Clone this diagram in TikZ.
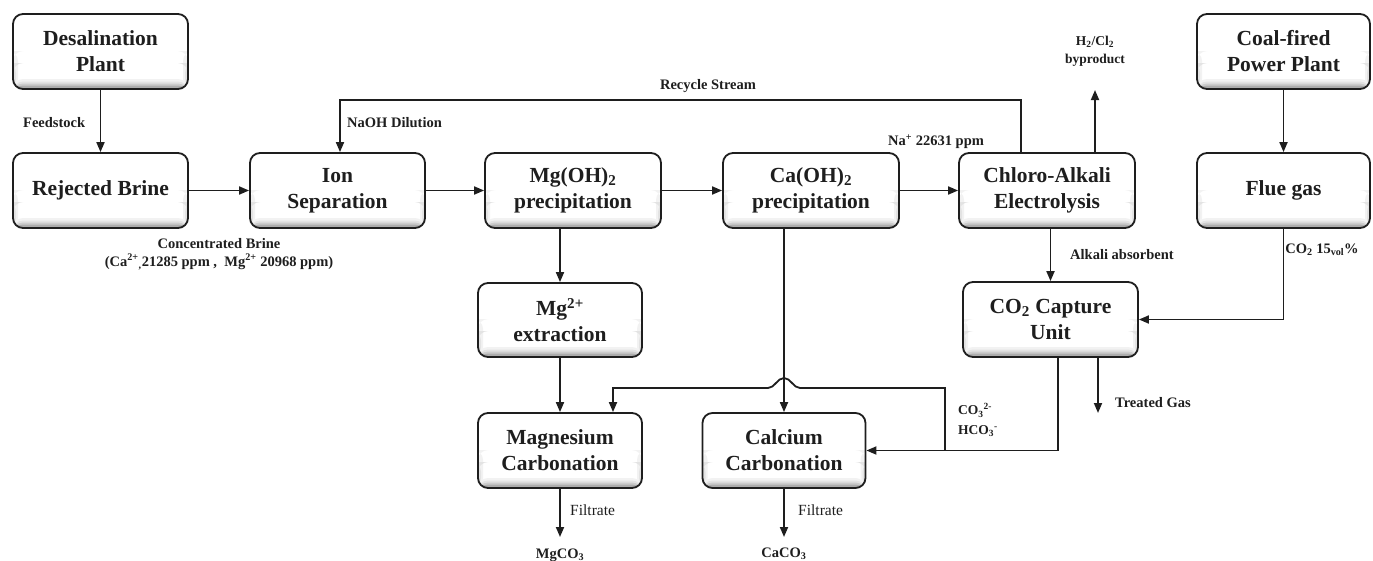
\documentclass[tikz,border=0pt]{standalone}
\usepackage{fontspec}
\setmainfont{Liberation Serif}
\usetikzlibrary{arrows.meta}

\definecolor{ink}{HTML}{1E1E1E}

\tikzset{
  % stepped grey strips give the inner shadow along the lower edge and sides
  unit/.style={draw=ink, line width=1.8pt, rounded corners=10pt, fill=white,
    minimum width=175pt, minimum height=75pt, align=center, inner sep=2pt,
    text=ink, font=\bfseries\fontsize{21.5}{26}\selectfont,
    path picture={
      \fill[black!5] (path picture bounding box.south west) rectangle ([xshift=5pt,yshift=38pt]path picture bounding box.south west);
      \fill[black!5] (path picture bounding box.south east) rectangle ([xshift=-5pt,yshift=38pt]path picture bounding box.south east);
      \fill[black!11] (path picture bounding box.south west) rectangle ([xshift=3pt,yshift=26pt]path picture bounding box.south west);
      \fill[black!11] (path picture bounding box.south east) rectangle ([xshift=-3pt,yshift=26pt]path picture bounding box.south east);
      \fill[black!5] (path picture bounding box.south west) rectangle ([yshift=10pt]path picture bounding box.south east);
      \fill[black!11] (path picture bounding box.south west) rectangle ([yshift=7.5pt]path picture bounding box.south east);
      \fill[black!20] (path picture bounding box.south west) rectangle ([yshift=5.5pt]path picture bounding box.south east);
      \fill[black!32] (path picture bounding box.south west) rectangle ([yshift=3.5pt]path picture bounding box.south east);
    }},
  flow/.style={draw=ink, line width=1.8pt, -{Triangle[length=10pt,width=8pt]}},
  lbl/.style={text=ink, inner sep=0pt, font=\bfseries\fontsize{14.5}{18}\selectfont},
  plain/.style={text=ink, inner sep=0pt, font=\fontsize{15.5}{18}\selectfont},
}

\begin{document}
\begin{tikzpicture}[x=1pt, y=-1pt]
\useasboundingbox (0,0) rectangle (1373,560);

% process units
\node[unit] (desal) at (100.5,51.5) {Desalination\\Plant};
\node[unit] (brine) at (100.5,190.5) {Rejected Brine};
\node[unit] (ion) at (337.5,190.5) {Ion\\Separation};
\node[unit, minimum width=176pt] (mgoh) at (573,190.5) {Mg(OH)\textsubscript{2}\\precipitation};
\node[unit, minimum width=176pt] (caoh) at (811,190.5) {Ca(OH)\textsubscript{2}\\precipitation};
\node[unit, minimum width=176pt] (chlor) at (1047,190.5) {Chloro-Alkali\\Electrolysis};
\node[unit, minimum width=173pt] (coal) at (1283.5,51.5) {Coal-fired\\Power Plant};
\node[unit, minimum width=173pt] (flue) at (1283.5,190.5) {Flue gas};
\node[unit, minimum width=164pt, minimum height=74pt] (mgext) at (560,320) {Mg\textsuperscript{2+}\\extraction};
\node[unit, minimum width=164pt] (mgcarb) at (560,450.5) {Magnesium\\Carbonation};
\node[unit, minimum width=163pt] (cacarb) at (784,450.5) {Calcium\\Carbonation};
\node[unit] (co2) at (1050.5,319.5) {CO\textsubscript{2} Capture\\Unit};

% free ends and bends
\coordinate (recycle) at (340,100);
\coordinate (gasout) at (1095,90);
\coordinate (treated) at (1098,413);
\coordinate (split) at (945,450.5);
\coordinate (bridge) at (945,388);
\coordinate (mgin) at (613,388);
\coordinate (mgout) at (560,537);
\coordinate (caout) at (784,537);

% main line
\draw[flow] (desal) -- (brine);
\draw[flow] (brine) -- (ion);
\draw[flow] (ion) -- (mgoh);
\draw[flow] (mgoh) -- (caoh);
\draw[flow] (caoh) -- (chlor);
\draw[flow] (coal) -- (flue);

% recycle of diluted NaOH and gas byproduct
\draw[flow] ([xshift=-26pt]chlor.north) |- (recycle) -- (recycle |- ion.north);
\draw[flow] ([xshift=48pt]chlor.north) -- (gasout |- chlor.north) -- (gasout);

% alkali and flue gas into the capture unit
\draw[flow] (co2.north |- chlor.south) -- (co2.north);
\draw[flow] (flue.south) |- (co2.east);
\draw[flow] ([xshift=47.5pt]co2.south) -- (treated);

% magnesium branch
\draw[flow] (mgext.north |- mgoh.south) -- (mgext.north);
\draw[flow] (mgext) -- (mgcarb);
\draw[flow] (mgcarb) -- (mgout);

% calcium branch
\draw[flow] (cacarb.north |- caoh.south) -- (cacarb.north);
\draw[flow] (cacarb) -- (caout);

% carbonate / bicarbonate solution to both carbonation units
\draw[flow] ([xshift=7.5pt]co2.south) |- (cacarb.east);
\draw[flow] (split) -- (bridge) -- (800,388)
  .. controls (793,388) and (791,378) .. (784,378)
  .. controls (777,378) and (775,388) .. (768,388)
  -- (mgin) -- (mgin |- mgcarb.north);

% labels
\node[lbl, anchor=west] at (23,123) {Feedstock};
\node[lbl, anchor=west] at (347,123) {NaOH Dilution};
\node[lbl] at (708,86) {Recycle Stream};
\node[lbl, anchor=west] at (888,142) {Na\textsuperscript{+} 22631 ppm};
\node[lbl, align=center] at (219,254) {Concentrated Brine\\(Ca\textsuperscript{2+}\textsubscript{,}21285 ppm ,\ \ Mg\textsuperscript{2+} 20968 ppm)};
\node[lbl, align=center, font=\bfseries\fontsize{13.5}{18}\selectfont] at (1095,51) {H\textsubscript{2}/Cl\textsubscript{2}\\byproduct};
\node[lbl, anchor=west] at (1070,255) {Alkali absorbent};
\node[lbl] at (1322,250) {CO\textsubscript{2} 15\textsubscript{vol}\%};
\node[lbl, anchor=west, align=left, font=\bfseries\fontsize{13.5}{19.5}\selectfont] at (958,420) {CO\textsubscript{3}\textsuperscript{2-}\\HCO\textsubscript{3}\textsuperscript{-}};
\node[lbl, anchor=west] at (1115,403) {Treated Gas};
\node[plain, anchor=west] at (570,510) {Filtrate};
\node[plain, anchor=west] at (798,510) {Filtrate};
\node[lbl, anchor=base] at (560,558) {MgCO\textsubscript{3}};
\node[lbl, anchor=base] at (784,557) {CaCO\textsubscript{3}};
\end{tikzpicture}
\end{document}
